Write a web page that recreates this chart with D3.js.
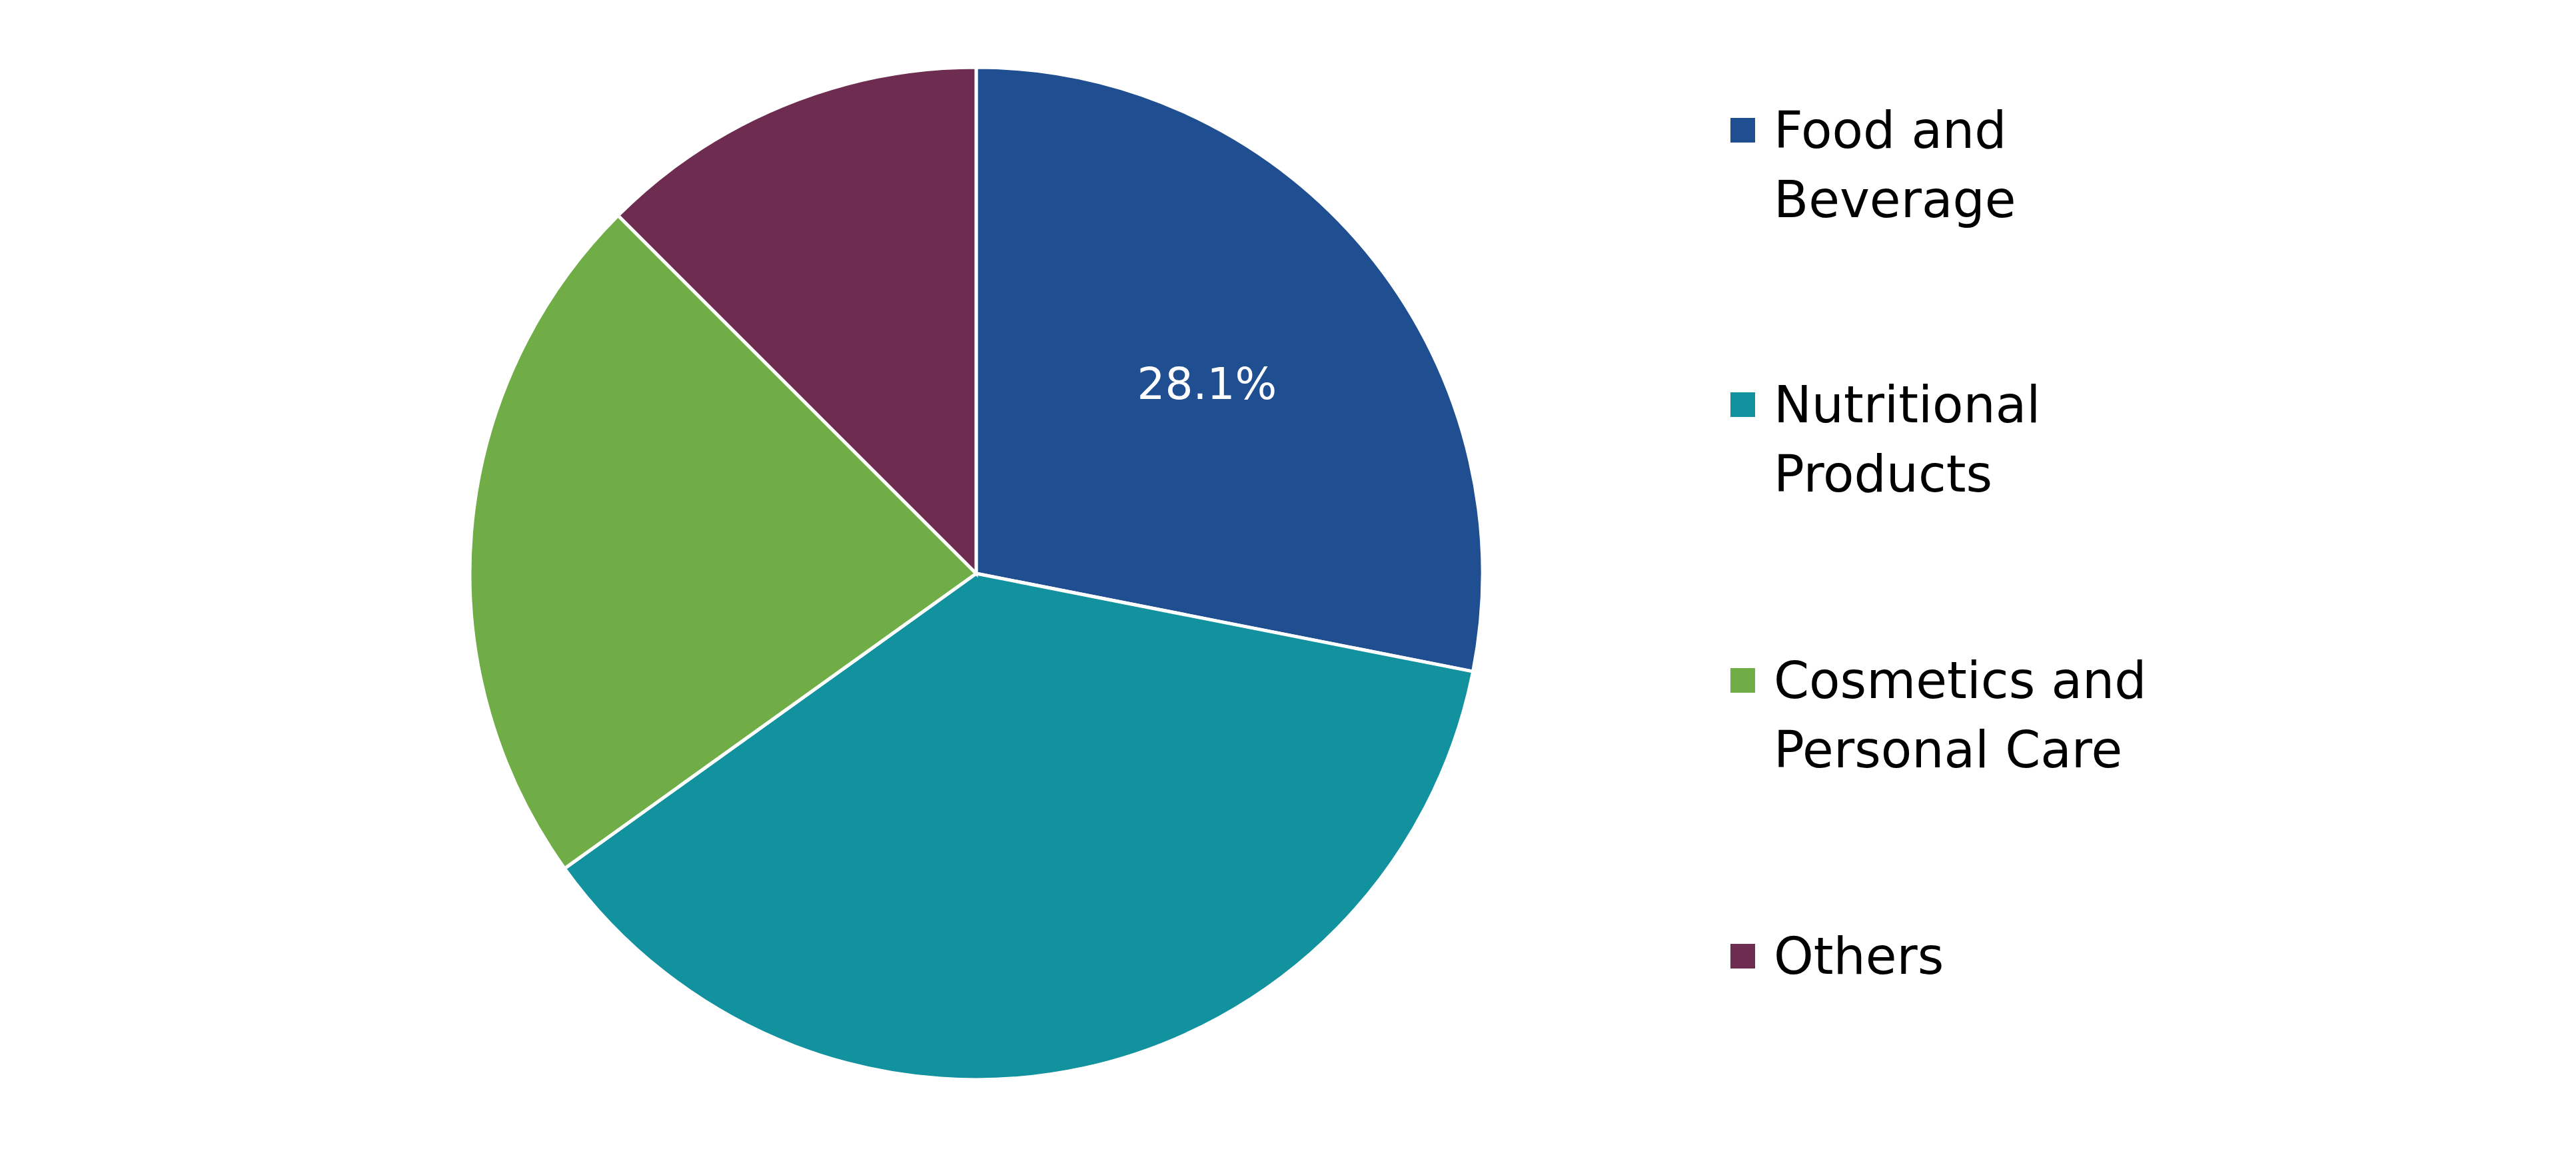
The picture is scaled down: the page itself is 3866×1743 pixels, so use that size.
<!DOCTYPE html>
<html>
<head>
<meta charset="utf-8">
<script src="https://cdn.jsdelivr.net/npm/d3@7"></script>
<style>
  body { margin: 0; background: #fff; }
  text { font-family: Verdana, "DejaVu Sans", sans-serif; }
</style>
</head>
<body>
<div class="graph"></div>
<script>
// segment names and shares (percent)
var categories = ["Food and Beverage", "Nutritional Products", "Cosmetics and Personal Care", "Others"];
var legendLines = [["Food and", "Beverage"], ["Nutritional", "Products"], ["Cosmetics and", "Personal Care"], ["Others"]];
var shares = [28.1, 37.0, 22.4, 12.5];
var colors = ["#1F4E91", "#12919E", "#70AD47", "#6E2C50"];
var shownLabels = ["28.1%", null, null, null];

var width = 3866, height = 1743;
var cx = 1465, cy = 861, radius = 760;

var svg = d3.select(".graph").append("svg")
    .attr("width", width)
    .attr("height", height);

var data = categories.map(function(c, i) { return {name: c, value: shares[i], i: i}; });

var pie = d3.pie().sort(null).value(function(d) { return d.value; });
var arc = d3.arc().innerRadius(0).outerRadius(radius);
var labelArc = d3.arc().innerRadius(radius * 0.59).outerRadius(radius * 0.59);

var g = svg.append("g").attr("transform", "translate(" + cx + "," + cy + ")");

var arcs = pie(data);

g.selectAll("path").data(arcs).enter().append("path")
    .attr("d", arc)
    .attr("fill", function(d) { return colors[d.data.i]; })
    .attr("stroke", "#fff")
    .attr("stroke-width", 5);

g.selectAll(".lbl").data(arcs.filter(function(d) { return shownLabels[d.data.i]; }))
    .enter().append("text")
    .attr("class", "lbl")
    .attr("transform", function(d) { return "translate(" + labelArc.centroid(d) + ")"; })
    .attr("text-anchor", "middle")
    .attr("dy", "0.35em")
    .attr("fill", "#fff")
    .attr("font-size", 66)
    .text(function(d) { return shownLabels[d.data.i]; });

// legend
var legend = svg.append("g").attr("transform", "translate(2597,0)");
var itemY = [195, 607, 1021, 1435];
var item = legend.selectAll(".item").data(data).enter().append("g")
    .attr("class", "item")
    .attr("transform", function(d) { return "translate(0," + itemY[d.i] + ")"; });

item.append("rect")
    .attr("x", 0).attr("y", -18)
    .attr("width", 37).attr("height", 37)
    .attr("fill", function(d) { return colors[d.i]; });

item.append("text")
    .attr("x", 65)
    .attr("font-size", 76)
    .attr("fill", "#000")
    .selectAll("tspan")
    .data(function(d) { return legendLines[d.i]; })
    .enter().append("tspan")
    .attr("x", 65)
    .attr("y", function(d, j) { return j * 104; })
    .attr("dy", "0.35em")
    .text(function(d) { return d; });
</script>
</body>
</html>
